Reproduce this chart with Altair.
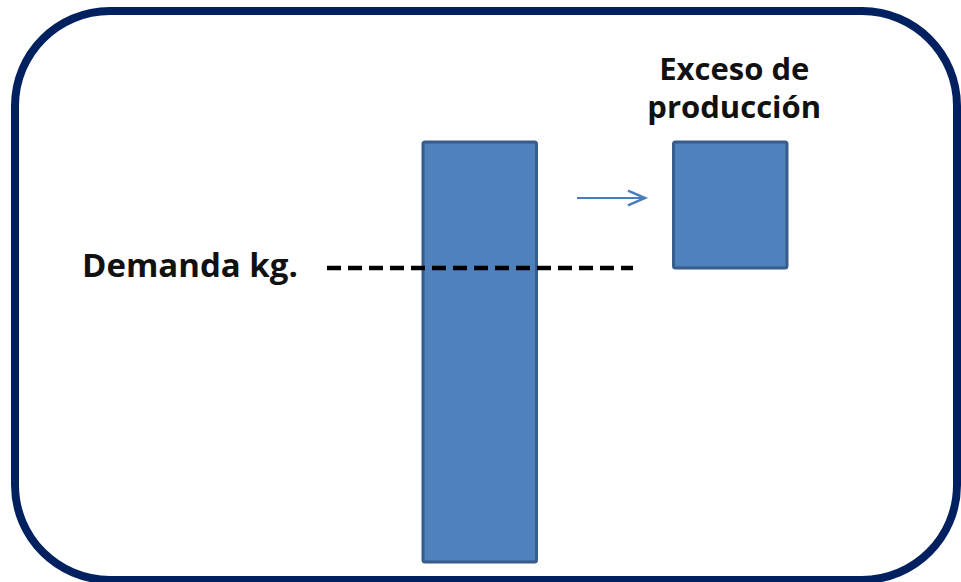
import altair as alt
import pandas as pd

# Conceptual quantities (same units for every bar)
production = 100
demand = 70
excess = production - demand

categories = ["Producción", "Exceso de producción"]
bar_start = [0, demand]
bar_end = [production, production]

W, H = 961, 582
BAR_FILL = "#4F81BD"
BAR_EDGE = "#385D8A"
NAVY = "#002060"
ARROW = "#4A7EBB"
FONT = "Open Sans"

bars_df = pd.DataFrame({"cat": categories, "start": bar_start, "end": bar_end})

x_scale = alt.Scale(domain=categories, range=[423, 787], paddingInner=0.547, paddingOuter=0)
y_scale = alt.Scale(domain=[0, production], range=[562, 142], nice=False, zero=False)

# Rounded frame around the whole figure
frame = alt.Chart(pd.DataFrame({"k": [0]})).mark_rect(
    fill=None, stroke=NAVY, strokeWidth=8, cornerRadius=95
).encode(x=alt.value(15), x2=alt.value(957), y=alt.value(11), y2=alt.value(580))

bars = alt.Chart(bars_df).mark_bar(
    fill=BAR_FILL, stroke=BAR_EDGE, strokeWidth=3, cornerRadius=2
).encode(
    x=alt.X("cat:N", scale=x_scale, axis=None, sort=categories),
    y=alt.Y("start:Q", scale=y_scale, axis=None),
    y2="end:Q",
)

# Demand level
demand_df = pd.DataFrame({"demand": [demand]})
demand_line = alt.Chart(demand_df).mark_rule(
    color="black", strokeWidth=4.5, strokeDash=[14, 7], strokeCap="butt"
).encode(
    y=alt.Y("demand:Q", scale=y_scale, axis=None),
    x=alt.value(327), x2=alt.value(633),
)
demand_label = alt.Chart(demand_df).mark_text(
    text="Demanda kg.", align="left", baseline="alphabetic", dy=9,
    font=FONT, fontWeight="bold", fontSize=33, color="#111111"
).encode(y=alt.Y("demand:Q", scale=y_scale, axis=None), x=alt.value(82))

# Arrow pointing to the excess
arrow_df = pd.DataFrame({"k": [0]})
arrow_shaft = alt.Chart(arrow_df).mark_rule(color=ARROW, strokeWidth=2).encode(
    x=alt.value(577), x2=alt.value(644), y=alt.value(198)
)
arrow_head = alt.Chart(arrow_df).mark_point(
    shape="M-1,-0.44L0,0L-1,0.44", size=1156, filled=False,
    stroke=ARROW, strokeWidth=2.5, opacity=1
).encode(x=alt.value(645), y=alt.value(198))

excess_label = alt.Chart(pd.DataFrame({"cat": [categories[1]], "end": [production]})).mark_text(
    text=["Exceso de", "producción"], align="center", baseline="alphabetic",
    font=FONT, fontWeight="bold", fontSize=31, lineHeight=38, color="#111111", dy=-62, dx=4
).encode(
    x=alt.X("cat:N", scale=x_scale, axis=None, sort=categories),
    y=alt.Y("end:Q", scale=y_scale, axis=None),
)

chart = alt.layer(
    bars, demand_line, demand_label, arrow_shaft, arrow_head, excess_label, frame
).properties(
    width=W, height=H, autosize=alt.AutoSizeParams(type="none"), padding=0, background="white"
).configure_view(stroke=None)

chart.save("out.html", embed_options={"renderer": "svg", "actions": False})
